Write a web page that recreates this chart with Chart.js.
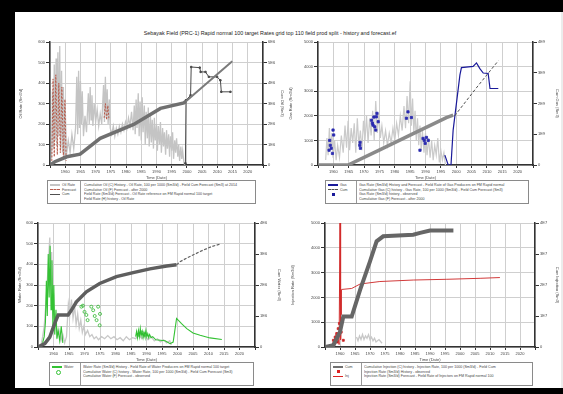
<!DOCTYPE html>
<html>
<head>
<meta charset="utf-8">
<script src="https://cdn.jsdelivr.net/npm/chart.js@4.4.1/dist/chart.umd.min.js"></script>
<style>
  html, body { margin: 0; padding: 0; width: 563px; height: 394px; background: #fff; overflow: hidden; }
  #wrap { position: absolute; left: 0; top: 0; width: 563px; height: 394px; overflow: hidden; background: #fff; contain: strict; }
  .frame { position: absolute; background: #000; }
  canvas { position: absolute; }
  .title { position: absolute; left: 100px; top: 30px; width: 340px; height: 7px; overflow: hidden; text-align: center;
           font: 5.4px "Liberation Sans", Arial, sans-serif; line-height: 7px; color: #222; white-space: nowrap; }
  .legend { position: absolute; border: 1px solid #8a8a8a; background: #fff; overflow: hidden;
            font: 3.6px "Liberation Sans", Arial, sans-serif; color: #444; line-height: 4.6px; }
  .legend .keys { position: absolute; left: 0; top: 0; bottom: 0; border-right: 1px solid #999; padding: 2px 2px; overflow: hidden; }
  .legend .text { position: absolute; top: 2px; right: 2px; bottom: 0; white-space: nowrap; overflow: hidden; }
  .sw { display: inline-block; width: 10px; height: 0; vertical-align: middle; margin-right: 2px; }
  .mk { display: inline-block; width: 3px; height: 3px; vertical-align: middle; margin-left: 4px; }
</style>
</head>
<body>
<div id="wrap">
<div class="frame" style="left:0;top:0;width:563px;height:12px"></div>
<div class="frame" style="left:0;top:0;width:15px;height:394px"></div>
<div class="frame" style="left:0;top:388px;width:563px;height:6px"></div>
<div class="frame" style="left:561px;top:12px;width:2px;height:376px;background:#ececec"></div>
<div class="title">Sebayak Field (PRC-1) Rapid normal 100 target Rates grid top 110 field prod split - history and forecast.ef</div>

<canvas id="tl" width="267" height="144" style="left:18px;top:36px"></canvas>
<canvas id="tr" width="272" height="144" style="left:288px;top:36px"></canvas>
<canvas id="bl" width="265" height="146" style="left:17px;top:216px"></canvas>
<canvas id="br" width="270" height="146" style="left:290px;top:216px"></canvas>

<div class="legend" style="left:47px;top:180px;width:207px;height:22px">
  <div class="keys" style="width:28px">
    <div><span class="sw" style="border-top:2px solid #c4c4c4"></span>Oil Rate</div>
    <div><span class="sw" style="border-top:1px dashed #b85a4a"></span>Forecast</div>
    <div><span class="sw" style="border-top:1px solid #505050"></span>Cum</div>
  </div>
  <div class="text" style="left:36px">
    <div>Cumulative Oil (C) History - Oil Rate, 100 per 1000 (Sm3/d) - Field Cum Forecast (Sm3) at 2014</div>
    <div>Cumulative Oil (F) Forecast - after 2000</div>
    <div>Field Rate (Sm3/d) Forecast - Oil Rate reference on FM Rapid normal 100 target</div>
    <div>Field Rate (H) history - Oil Rate</div>
  </div>
</div>

<div class="legend" style="left:325px;top:180px;width:202px;height:22px">
  <div class="keys" style="width:26px">
    <div><span class="sw" style="border-top:2px solid #1a1a9a"></span>Gas</div>
    <div><span class="sw" style="border-top:1px dashed #505050"></span>Cum</div>
    <div><span class="mk" style="background:#1a1a9a"></span></div>
  </div>
  <div class="text" style="left:33px">
    <div>Gas Rate (Sm3/d) History and Forecast - Field Rate of Gas Producers on FM Rapid normal</div>
    <div>Cumulative Gas (C) history - Gas Rate, 100 per 1000 (Sm3/d) - Field Cum Forecast (Sm3)</div>
    <div>Gas Rate (Sm3/d) history - observed</div>
    <div>Cumulative Gas (F) Forecast - after 2000</div>
  </div>
</div>

<div class="legend" style="left:49px;top:362px;width:203px;height:22px">
  <div class="keys" style="width:26px">
    <div><span class="sw" style="border-top:2px solid #33c233"></span>Water</div>
    <div><span class="mk" style="border:1px solid #33c233;border-radius:50%"></span></div>
  </div>
  <div class="text" style="left:33px">
    <div>Water Rate (Sm3/d) History - Field Rate of Water Producers on FM Rapid normal 100 target</div>
    <div>Cumulative Water (C) history - Water Rate, 100 per 1000 (Sm3/d) - Field Cum Forecast (Sm3)</div>
    <div>Cumulative Water (F) Forecast - observed</div>
  </div>
</div>

<div class="legend" style="left:330px;top:362px;width:201px;height:22px">
  <div class="keys" style="width:26px">
    <div><span class="sw" style="border-top:2px solid #707070"></span>Cum</div>
    <div><span class="mk" style="background:#d22"></span></div>
    <div><span class="sw" style="border-top:1px solid #d22"></span>Inj</div>
  </div>
  <div class="text" style="left:33px">
    <div>Cumulative Injection (C) history - Injection Rate, 100 per 1000 (Sm3/d) - Field Cum</div>
    <div>Injection Rate (Sm3/d) History - observed</div>
    <div>Injection Rate (Sm3/d) Forecast - Field Rate of Injectors on FM Rapid normal 100</div>
  </div>
</div>
</div>

<script>
// x axis: years
const xMin = 1955;
const xMax = 2025;
const xStep = 5;

// tick labels
const tlLeftTicks = ["0", "100", "200", "300", "400", "500", "600"];
const tlRightTicks = ["0", "1E6", "2E6", "3E6", "4E6", "5E6", "6E6"];
const trLeftTicks = ["0", "1000", "2000", "3000", "4000", "5000"];
const trRightTicks = ["0", "1E9", "2E9", "3E9", "4E9"];
const blLeftTicks = ["0", "100", "200", "300", "400", "500", "600"];
const blRightTicks = ["0", "1E6", "2E6", "3E6", "4E6"];
const brLeftTicks = ["0", "1000", "2000", "3000", "4000", "5000"];
const brRightTicks = ["0", "1E7", "2E7", "3E7", "4E7"];

// top-left: oil
const tlRate = [[1955.5,0.3],[1955.8,3.6],[1956.1,0.8],[1956.4,4.9],[1956.7,1.2],[1957,5.2],[1957.3,0.9],[1957.6,5.5],[1957.9,1.4],[1958.2,5.8],[1958.5,0.8],[1958.8,4.6],[1959.1,0.6],[1959.4,3.8],[1959.7,0.4],[1960,2.9],[1960.4,0.5],[1961,1.2],[1961.6,0.6],[1962.2,1.5],[1962.8,0.8],[1963.4,1.8],[1963.8,4.3],[1964.1,1.5],[1964.4,4.6],[1964.7,1.8],[1965,4.1],[1965.3,2.0],[1965.6,3.6],[1966,1.4],[1966.5,2.4],[1967,1.6],[1967.6,3.5],[1967.9,2.0],[1968.2,3.8],[1968.5,2.2],[1968.8,3.4],[1969.1,1.9],[1969.5,3.0],[1970,2.1],[1970.5,2.7],[1971,1.9],[1971.5,2.5],[1972,2.0],[1972.6,3.9],[1972.9,2.1],[1973.2,4.3],[1973.5,2.3],[1973.8,3.7],[1974.1,2.0],[1974.5,3.2],[1974.8,1.8],[1975.3,1.5],[1975.8,1.9],[1976.3,1.4],[1976.8,1.8],[1977.3,1.5],[1977.8,1.9],[1978.3,1.6],[1978.8,2.0],[1979.3,1.7],[1979.8,2.1],[1980.3,1.8],[1980.8,2.3],[1981.3,1.9],[1981.8,2.6],[1982.3,1.7],[1982.7,2.9],[1983,1.5],[1983.3,3.2],[1983.6,1.8],[1984,3.5],[1984.3,1.4],[1984.6,3.1],[1985,1.2],[1985.3,3.3],[1985.6,1.6],[1986,2.9],[1986.3,1.0],[1986.6,2.6],[1987,1.3],[1987.3,2.8],[1987.6,0.9],[1988,2.4],[1988.3,1.1],[1988.6,2.2],[1989,0.8],[1989.3,2.3],[1989.6,1.2],[1990,2.0],[1990.3,0.7],[1990.6,1.9],[1991,1.0],[1991.3,2.1],[1991.6,0.6],[1992,1.8],[1992.3,0.9],[1992.6,1.6],[1993,0.5],[1993.3,1.7],[1993.6,0.8],[1994,1.5],[1994.3,0.4],[1994.6,1.4],[1995,0.7],[1995.3,1.6],[1995.6,0.3],[1996,1.2],[1996.3,0.6],[1996.6,1.3],[1997,0.4],[1997.3,1.0],[1997.6,0.2],[1998,0.9],[1998.3,0.3],[1998.6,0.7],[1999,0.1],[1999.3,0.0]];
const tlRed = [[1955.6,0.2],[1956.0,4.2],[1956.4,0.4],[1956.9,4.4],[1957.4,0.5],[1957.9,4.0],[1958.4,0.6],[1958.9,3.8],[1959.4,0.3],[1959.9,3.2],[1960.3,0.2],[1966,null],[1972.8,2.3],[1973.2,3.0],[1973.6,2.2],[1974.0,2.9],[1974.4,2.2]];
const tlCum = [[1955,0],[1956.6,0.16],[1960.5,0.4],[1964.9,0.53],[1971.5,1.3],[1982.5,1.98],[1991.3,2.76],[1999,3.03],[1999.6,3.1]];
const tlCumForecast = [[1999.6,3.1],[2014.9,5.06]];
const tlForecastRate = [[1999.5,0.08],[1999.7,3.16],[2001.2,3.4],[2001.4,4.78],[2004.2,4.75],[2004.5,4.54],[2006.1,4.54],[2007.2,4.3],[2009.9,4.3],[2011,4.13],[2011.3,3.57],[2014.3,3.57]];

// top-right: gas
const trRate = [[1957.5,0.2],[1957.9,1.1],[1958.3,0.4],[1958.7,1.5],[1959.1,0.6],[1959.5,1.3],[1959.9,0.3],[1960.4,1.0],[1960.9,0.2],[1961.4,0.8],[1962,0.3],[1962.6,1.2],[1963.2,0.5],[1963.8,1.6],[1964.3,0.7],[1964.8,1.8],[1965.3,0.6],[1965.8,1.5],[1966.3,0.9],[1966.8,1.7],[1967.3,0.5],[1967.8,1.9],[1968.3,0.8],[1968.8,1.4],[1969.3,0.6],[1969.8,1.8],[1970.3,1.0],[1970.8,2.0],[1971.3,0.9],[1971.8,1.9],[1972.3,1.2],[1972.8,2.2],[1973.3,1.0],[1973.8,2.6],[1974.3,1.3],[1974.8,2.1],[1975.3,1.1],[1975.8,1.6],[1976.4,0.9],[1977,1.4],[1977.6,0.8],[1978.2,1.3],[1978.8,0.9],[1979.4,1.5],[1980,1.0],[1980.6,1.7],[1981.2,1.2],[1981.8,2.0],[1982.4,1.4],[1983,2.4],[1983.5,1.5],[1984,2.8],[1984.5,1.7],[1985,3.4],[1985.4,1.6],[1985.8,2.7],[1986.2,1.3],[1986.6,2.2],[1987,1.0],[1987.4,1.9],[1987.8,0.8],[1988.2,1.6],[1988.6,0.6],[1989,1.4],[1989.5,0.5],[1990,1.3],[1990.5,0.4],[1991,1.1],[1991.5,0.3],[1992,1.0],[1992.5,0.2],[1993,0.8],[1993.5,0.4],[1994,1.1],[1994.5,0.1],[1995,0.6],[1995.5,0.2],[1996,0.5],[1996.5,0.0]];
const trBlueLine = [[1996.3,0.4],[1997.4,0],[1998.3,0],[1999,1.42],[2001.2,3.65],[2001.7,3.96],[2005.5,4.01],[2006.6,4.15],[2007.7,3.92],[2008.8,3.74],[2010.4,3.72],[2011,3.11],[2013.7,3.11]];
const trBlueObs = [[1958.6,0.6],[1958.8,1.0],[1959,0.8],[1959.3,0.68],[1959.7,0.47],[1959.9,1.42],[1960.1,1.22],[1968.6,0.8],[1968.8,0.68],[1968.7,0.92],[1972.4,1.82],[1972.9,1.62],[1973.2,1.95],[1973.5,1.55],[1973.8,1.42],[1974,1.96],[1974.2,2.1],[1974.6,1.76],[1972.7,1.7],[1983.8,1.9],[1984.3,2.16],[1985.4,1.93],[1988.2,0.6],[1989.2,1.08],[1989.6,1.0],[1989.9,0.88],[1990.3,1.12],[1990.9,1.0]];
const trCum = [[1955,0],[1964.8,0],[1975.1,0.49],[1986,1.02],[1996.8,1.54],[1999,1.62]];
const trCumForecast = [[1999.5,1.6],[2006.5,2.5],[2013.7,3.39]];

// bottom-left: water
const blRate = [[1956,0.1],[1956.5,0.5],[1957,1.0],[1957.5,2.0],[1958,3.2],[1958.4,4.2],[1958.8,5.3],[1959.1,3.0],[1959.4,4.6],[1959.7,2.0],[1960,2.6],[1960.4,1.0],[1960.8,1.5],[1961.2,0.5],[1961.8,0.8],[1962.4,0.3],[1963,0.6],[1963.6,0.2],[1964.2,0.5],[1964.8,2.1],[1965.3,1.6],[1965.8,2.3],[1966.3,1.4],[1966.8,2.0],[1967.3,1.1],[1967.8,1.6],[1968.3,0.9],[1968.8,1.3],[1969.3,0.7],[1969.8,1.0],[1970.3,0.6],[1971,0.8],[1971.7,0.5],[1972.4,0.6],[1973.1,0.4],[1973.8,0.5],[1974.5,0.35],[1975.5,0.5],[1976.5,0.4],[1977.5,0.55],[1978.5,0.4],[1979.5,0.5],[1980.5,0.35],[1981.5,0.45],[1982.5,0.3],[1983.5,0.5],[1984.5,0.35],[1985.5,0.45],[1986.5,0.4],[1987.5,0.6],[1988.5,0.4],[1989.5,0.55],[1990.5,0.35],[1991.5,0.5],[1992.5,0.3],[1993.5,0.4],[1994.5,0.25],[1995.5,0.35],[1996.5,0.2],[1997.5,0.3],[1998,0.1]];
const blGreen = [[1956.5,0.2],[1957,0.5],[1957.4,1.2],[1957.7,3.2],[1958,1.5],[1958.3,4.5],[1958.6,2.4],[1958.9,4.9],[1959.2,1.8],[1959.5,4.2],[1959.8,1.0],[1960.1,3.0],[1960.4,0.6],[1960.8,1.8],[1961.1,0.4],[1961.5,0.8],[1962,0.3],[1962.5,1.0],[1963,0.2],[1975,null],[1986.5,0.5],[1986.8,0.75],[1987.1,0.45],[1987.4,0.8],[1987.7,0.5],[1988,0.9],[1988.3,0.55],[1988.6,0.75],[1988.9,0.45],[1989.2,0.7],[1989.5,0.5],[1989.8,0.8],[1990.1,0.5],[1990.4,0.65],[1990.7,0.45],[1991,0.6],[1991.5,0.45],[1992,0.5],[1993,0.35],[1996,0.3],[1997.6,0.16],[1998.6,0.24],[1999.7,1.38],[2001.3,1.13],[2003,0.89],[2005,0.68],[2007.3,0.57],[2010.5,0.44],[2014.3,0.36]];
const blGreenObs = [[1969,1.95],[1969.5,2.0],[1970,1.7],[1970.6,1.55],[1971,1.3],[1972.2,1.95],[1972.8,1.78],[1973.3,1.5],[1973.9,1.3],[1974.4,1.95],[1974.9,1.05],[1975,1.6],[1987.5,0.6],[1988.5,0.7],[1989.5,0.6]];
const blCum = [[1955,0],[1957.2,0.11],[1958.8,0.32],[1960.4,0.76],[1961.5,1.03],[1964.7,1.03],[1965.8,1.19],[1967.4,1.46],[1970.6,1.78],[1974.9,2.05],[1980.3,2.27],[1985.7,2.4],[1991.1,2.52],[1996.5,2.61],[1999.7,2.65]];
const blCumForecast = [[1999.7,2.65],[2000.8,2.75],[2003,2.87],[2007.3,3.08],[2011,3.24],[2013.7,3.32]];

// bottom-right: injection
const brRate = [[1965.5,0.4],[1966,0.25],[1966.5,0.45],[1967,0.3],[1967.5,0.5],[1968,0.3],[1968.5,0.45],[1969,0.35],[1969.5,0.5],[1970,0.3],[1970.5,0.4],[1971,0.25],[1971.5,0.35],[1972,0.2],[1973,0.3],[1974,0.15]];
const brRedSpike = [[1956.7,0],[1957.8,0.2],[1959,0.6],[1959.7,0.1],[1960,5.0],[1960.2,0.3],[1960.5,1.1]];
const brRedLine = [[1960.4,1.3],[1960.5,2.32],[1963.9,2.36],[1966.7,2.54],[1973.3,2.64],[1984.4,2.7],[1995.6,2.73],[2006.7,2.77],[2013.3,2.8]];
const brRedObs = [[1957.8,0.27],[1958,0.1],[1958.4,0.4],[1958.9,0.54],[1959,0.2],[1959.4,0.74],[1959.8,0.95],[1960.4,0.6],[1961.1,0.27]];
const brCum = [[1955,0],[1957.8,0.06],[1960,0.49],[1961.1,0.98],[1963.9,0.98],[1966.7,1.84],[1970,2.76],[1972.2,3.41],[1974.4,3.57],[1984.4,3.62],[1986.7,3.68],[1990,3.76],[1997.8,3.76]];

const FONT = { family: "Liberation Sans, Arial, sans-serif", size: 4 };
const GRID = "#cfcfcf";
const AXIS = "#333";

function pts(pairs) {
  return pairs.map(([x, y]) => ({ x, y }));
}

function line(pairs, color, width, extra = {}) {
  return Object.assign({
    data: pts(pairs),
    borderColor: color,
    backgroundColor: color,
    borderWidth: width,
    pointRadius: 0,
    tension: 0,
    spanGaps: false,
    yAxisID: "y",
  }, extra);
}

function marks(pairs, color, style, radius, extra = {}) {
  return Object.assign({
    data: pts(pairs),
    showLine: false,
    pointStyle: style,
    pointRadius: radius,
    pointBorderWidth: 0.8,
    borderColor: color,
    backgroundColor: color,
    yAxisID: "y",
  }, extra);
}

function makeChart(id, box, plot, left, right, datasets) {
  const leftW = plot.l - box.l;
  const rightW = box.l + box.w - plot.r;
  const topPad = plot.t - box.t;
  const bottomH = box.t + box.h - plot.b;

  return new Chart(document.getElementById(id), {
    type: "line",
    data: { datasets },
    options: {
      responsive: false,
      animation: false,
      events: [],
      layout: { padding: { top: topPad, left: 0, right: 0, bottom: 0 } },
      plugins: { legend: { display: false }, tooltip: { enabled: false } },
      scales: {
        x: {
          type: "linear",
          min: xMin,
          max: xMax,
          ticks: {
            stepSize: xStep,
            font: FONT,
            color: "#444",
            padding: 1,
            maxRotation: 0,
            autoSkip: false,
            callback: (v) => (v === xMin || v === xMax ? "" : String(v)),
          },
          grid: { color: GRID, tickLength: 3, tickColor: AXIS },
          border: { color: AXIS, width: 1.5 },
          title: { display: true, text: "Time (Date)", font: FONT, color: "#444", padding: 0 },
          afterFit: (s) => { s.height = bottomH; },
        },
        y: {
          position: "left",
          min: 0,
          max: left.ticks.length - 1,
          ticks: { stepSize: 1, font: FONT, color: "#444", padding: 1, callback: (v) => left.ticks[v] },
          grid: { color: GRID, tickLength: 4, tickColor: AXIS },
          border: { color: AXIS, width: 1.5 },
          title: { display: true, text: left.title, font: FONT, color: "#444", padding: 0 },
          afterFit: (s) => { s.width = leftW; },
        },
        y2: {
          position: "right",
          min: 0,
          max: right.ticks.length - 1,
          ticks: { stepSize: 1, font: FONT, color: "#444", padding: 1, callback: (v) => right.ticks[v] },
          grid: { drawOnChartArea: false, tickLength: 4, tickColor: AXIS },
          border: { color: AXIS, width: 1.5 },
          title: { display: true, text: right.title, font: FONT, color: "#444", padding: 0 },
          afterFit: (s) => { s.width = rightW; },
        },
      },
    },
  });
}

makeChart("tl",
  { l: 18, t: 36, w: 267, h: 144 },
  { l: 50, r: 263, t: 42, b: 165 },
  { ticks: tlLeftTicks, title: "Oil Rate (Sm3/d)" },
  { ticks: tlRightTicks, title: "Cum Oil (Sm3)" },
  [
    line(tlCum, "#707070", 3.5, { yAxisID: "y2", order: 0 }),
    line(tlCumForecast, "#7a7a7a", 2, { yAxisID: "y2", order: 1 }),
    line(tlForecastRate, "#4a4a4a", 1, { order: 2, pointRadius: 1, pointStyle: "rect" }),
    line(tlRed, "#b85a4a", 1, { order: 3, borderDash: [2, 1.5] }),
    line(tlRate, "#c4c4c4", 1.3, { order: 5 }),
  ]);

makeChart("tr",
  { l: 288, t: 36, w: 272, h: 144 },
  { l: 318, r: 533, t: 42, b: 165 },
  { ticks: trLeftTicks, title: "Gas Rate (Sm3/d)" },
  { ticks: trRightTicks, title: "Cum Gas (Sm3)" },
  [
    line(trCum, "#8a8a8a", 3.5, { yAxisID: "y2", order: 1 }),
    line(trCumForecast, "#505050", 1, { yAxisID: "y2", order: 0, borderDash: [3, 2] }),
    line(trBlueLine, "#1a1a9a", 1.2, { order: 2 }),
    marks(trBlueObs, "#2a2ab0", "rect", 1.6, { order: 3 }),
    line(trRate, "#cacaca", 1.2, { order: 5 }),
  ]);

makeChart("bl",
  { l: 17, t: 216, w: 265, h: 146 },
  { l: 38, r: 255, t: 223, b: 347 },
  { ticks: blLeftTicks, title: "Water Rate (Sm3/d)" },
  { ticks: blRightTicks, title: "Cum Water (Sm3)" },
  [
    line(blCum, "#5e5e5e", 3.5, { yAxisID: "y2", order: 0 }),
    line(blCumForecast, "#606060", 1.2, { yAxisID: "y2", order: 1, borderDash: [3, 1.5] }),
    line(blGreen, "#33c233", 1.1, { order: 3 }),
    marks(blGreenObs, "#2fb82f", "circle", 1.5, { order: 2, backgroundColor: "rgba(0,0,0,0)" }),
    line(blRate, "#c8c8c8", 1.3, { order: 5 }),
  ]);

makeChart("br",
  { l: 290, t: 216, w: 270, h: 146 },
  { l: 325, r: 535, t: 223, b: 347 },
  { ticks: brLeftTicks, title: "Injection Rate (Sm3/d)" },
  { ticks: brRightTicks, title: "Cum Injection (Sm3)" },
  [
    line(brCum, "#666666", 4, { yAxisID: "y2", order: 0 }),
    line(brRedLine, "#d23a3a", 1, { order: 1 }),
    line(brRedSpike, "#d22a2a", 1, { order: 2 }),
    marks(brRedObs, "#c82020", "rect", 1.4, { order: 3 }),
    line(brRate, "#c8c8c8", 1.3, { order: 5 }),
  ]);
</script>
</body>
</html>
